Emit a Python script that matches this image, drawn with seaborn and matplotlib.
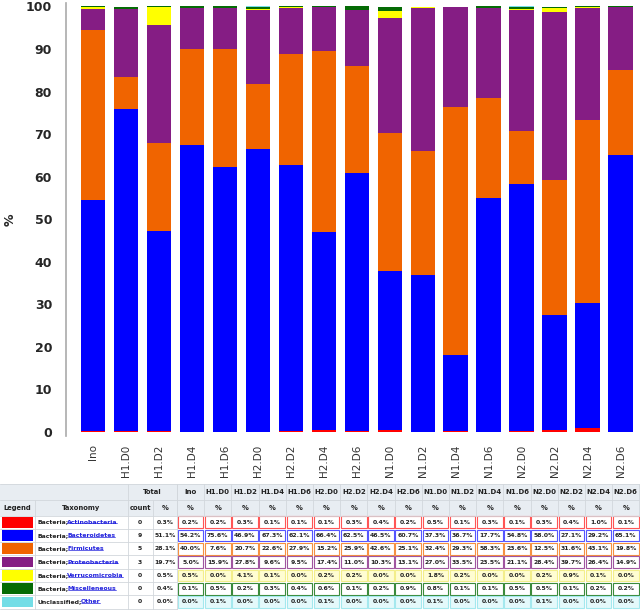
import pandas as pd
import matplotlib
matplotlib.use("Agg")
import matplotlib.pyplot as plt
import seaborn as sns
from matplotlib.patches import Rectangle

samples = ["Ino", "H1.D0", "H1.D2", "H1.D4", "H1.D6", "H2.D0", "H2.D2", "H2.D4", "H2.D6",
           "N1.D0", "N1.D2", "N1.D4", "N1.D6", "N2.D0", "N2.D2", "N2.D4", "N2.D6"]
kingdom = ["Bacteria", "Bacteria", "Bacteria", "Bacteria", "Bacteria", "Bacteria", "Unclassified"]
taxa = ["Actinobacteria", "Bacteroidetes", "Firmicutes", "Proteobacteria",
        "Verrucomicrobia", "Miscelleneous", "Other"]
colors = ["#ff0000", "#0000ff", "#f06400", "#851d84", "#ffff00", "#056b05", "#73dde6"]
total_count = [0, 9, 5, 3, 0, 0, 0]
total_pct = [0.3, 51.1, 28.1, 19.7, 0.5, 0.4, 0.0]

actinobacteria = [0.2, 0.2, 0.3, 0.1, 0.1, 0.1, 0.3, 0.4, 0.2, 0.5, 0.1, 0.3, 0.1, 0.3, 0.4, 1.0, 0.1]
bacteroidetes = [54.2, 75.6, 46.9, 67.3, 62.1, 66.4, 62.5, 46.5, 60.7, 37.3, 36.7, 17.7, 54.8, 58.0, 27.1, 29.2, 65.1]
firmicutes = [40.0, 7.6, 20.7, 22.6, 27.9, 15.2, 25.9, 42.6, 25.1, 32.4, 29.3, 58.3, 23.6, 12.5, 31.6, 43.1, 19.8]
proteobacteria = [5.0, 15.9, 27.8, 9.6, 9.5, 17.4, 11.0, 10.3, 13.1, 27.0, 33.5, 23.5, 21.1, 28.4, 39.7, 26.4, 14.9]
verrucomicrobia = [0.5, 0.0, 4.1, 0.1, 0.0, 0.2, 0.2, 0.0, 0.0, 1.8, 0.2, 0.0, 0.0, 0.2, 0.9, 0.1, 0.0]
miscelleneous = [0.1, 0.5, 0.2, 0.3, 0.4, 0.6, 0.1, 0.2, 0.9, 0.8, 0.1, 0.1, 0.5, 0.5, 0.1, 0.2, 0.2]
other = [0.0, 0.1, 0.0, 0.0, 0.0, 0.1, 0.0, 0.0, 0.0, 0.1, 0.0, 0.0, 0.0, 0.1, 0.0, 0.0, 0.0]

layers = [actinobacteria, bacteroidetes, firmicutes, proteobacteria, verrucomicrobia, miscelleneous, other]
df = pd.DataFrame(dict(zip(taxa, layers)), index=samples)
cum = df.cumsum(axis=1)

sns.set_style("white")
plt.rcParams["font.family"] = ["DejaVu Sans"]

fig = plt.figure(figsize=(6.4, 6.1), dpi=100)

# stacked bar chart (draw cumulative tops from highest to lowest)
ax = fig.add_axes([66 / 640, (610 - 436) / 610, (637 - 66) / 640, (436 - 3) / 610])
for i in reversed(range(len(taxa))):
    sns.barplot(x=samples, y=cum[taxa[i]].values, color=colors[i], saturation=1,
                width=0.74, errorbar=None, linewidth=0, edgecolor="none", ax=ax)
ax.set_xlim(-0.82, 16.5)
ax.set_ylim(-0.94, 100.8)
ax.set_yticks(range(0, 101, 10))
for s in ["top", "right", "bottom"]:
    ax.spines[s].set_visible(False)
ax.spines["left"].set_color("#aaaaaa")
ax.spines["left"].set_linewidth(1.2)
ax.tick_params(axis="y", direction="inout", length=8, width=1, color="#aaaaaa", pad=6,
               labelsize=9)
for lab in ax.get_yticklabels():
    lab.set_fontweight("bold")
ax.tick_params(axis="x", length=0, pad=6, labelsize=7.5, labelcolor="#333333", rotation=90)
ax.set_ylabel("%", fontsize=9, fontweight="bold")
ax.yaxis.set_label_coords(-0.086, 0.5)
ax.set_xlabel("")

# table below
tab = fig.add_axes([0, 0, 1, 132 / 610])
tab.set_xlim(0, 640)
tab.set_ylim(610, 478)
tab.axis("off")

head_bg = "#e8edf2"
grid = "#d2d7dc"
txt = "#222222"
col0 = 177
colw = 27.2
h1_top, h1_bot = 484, 500
h2_bot = 515.5
rowh = 13.3

tab.add_patch(Rectangle((0, h1_top), 640, h2_bot - h1_top, facecolor=head_bg, edgecolor="none"))
tab.plot([0, 640], [h1_bot, h1_bot], color=grid, lw=0.6)
tab.plot([0, 640], [h2_bot, h2_bot], color=grid, lw=0.6)
tab.plot([0, 640], [h1_top, h1_top], color=grid, lw=0.6)
for xv in [128, col0]:
    tab.plot([xv, xv], [h1_top, 610], color=grid, lw=0.6)
for xv in [35, 152.5]:
    tab.plot([xv, xv], [h1_bot, 610], color=grid, lw=0.6)
for j in range(len(samples) + 1):
    xv = col0 + j * colw
    tab.plot([xv, xv], [h1_top, h2_bot], color=grid, lw=0.6)

hy1 = (h1_top + h1_bot) / 2
hy2 = (h1_bot + h2_bot) / 2
hfs = 4.9
tab.text(152.5, hy1, "Total", ha="center", va="center", fontsize=hfs, fontweight="bold", color=txt)
tab.text(17.5, hy2, "Legend", ha="center", va="center", fontsize=hfs, fontweight="bold", color=txt)
tab.text(81.5, hy2, "Taxonomy", ha="center", va="center", fontsize=hfs, fontweight="bold", color=txt)
tab.text(140, hy2, "count", ha="center", va="center", fontsize=hfs, fontweight="bold", color=txt)
tab.text(165, hy2, "%", ha="center", va="center", fontsize=hfs, fontweight="bold", color=txt)
for j, s in enumerate(samples):
    xc = col0 + (j + 0.5) * colw
    tab.text(xc, hy1, s, ha="center", va="center", fontsize=5, fontweight="bold", color=txt)
    tab.text(xc, hy2, "%", ha="center", va="center", fontsize=hfs, fontweight="bold", color=txt)

cell_face = ["white", "white", "white", "white", "#fffdd2", "white", "#e4f9fb"]
cell_edge = ["#ff5555", "#5555ff", "#f59040", "#a055a0", "#f3ee8a", "#3a8a3a", "#a4e8ee"]
fs = 4.4
links = []
for i in range(len(taxa)):
    top = h2_bot + i * rowh
    yc = top + rowh / 2
    tab.plot([0, col0], [top + rowh, top + rowh], color=grid, lw=0.6)
    tab.add_patch(Rectangle((2, top + 1.3), 31, rowh - 2.6, facecolor=colors[i], edgecolor="none"))
    t1 = tab.text(37, yc, kingdom[i] + ";", ha="left", va="center", fontsize=fs,
                  fontweight="bold", color=txt)
    t2 = tab.annotate(taxa[i], xy=(1, 0.5), xycoords=t1, xytext=(-0.6, 0),
                      textcoords="offset points", ha="left", va="center", fontsize=fs,
                      fontweight="bold", color="#2222dd")
    links.append(t2)
    tab.text(140, yc, str(total_count[i]), ha="center", va="center", fontsize=fs,
             fontweight="bold", color=txt)
    tab.text(165, yc, f"{total_pct[i]:.1f}%", ha="center", va="center", fontsize=fs,
             fontweight="bold", color=txt)
    for j in range(len(samples)):
        x0 = col0 + j * colw
        tab.add_patch(Rectangle((x0 + 0.8, top + 0.8), colw - 1.6, rowh - 1.6,
                                facecolor=cell_face[i], edgecolor=cell_edge[i], lw=0.8))
        tab.text(x0 + colw / 2, yc, f"{layers[i][j]:.1f}%", ha="center", va="center",
                 fontsize=fs, fontweight="bold", color=txt)

fig.canvas.draw()
inv = tab.transData.inverted()
for t in links:
    bb = t.get_window_extent()
    (xa, ya), (xb, yb) = inv.transform([[bb.x0, bb.y0], [bb.x1, bb.y1]])
    yl = max(ya, yb) - 1.2
    tab.plot([xa + 0.5, xb - 0.5], [yl, yl], color="#2222dd", lw=0.5)

fig.savefig("out.png", dpi=100)
